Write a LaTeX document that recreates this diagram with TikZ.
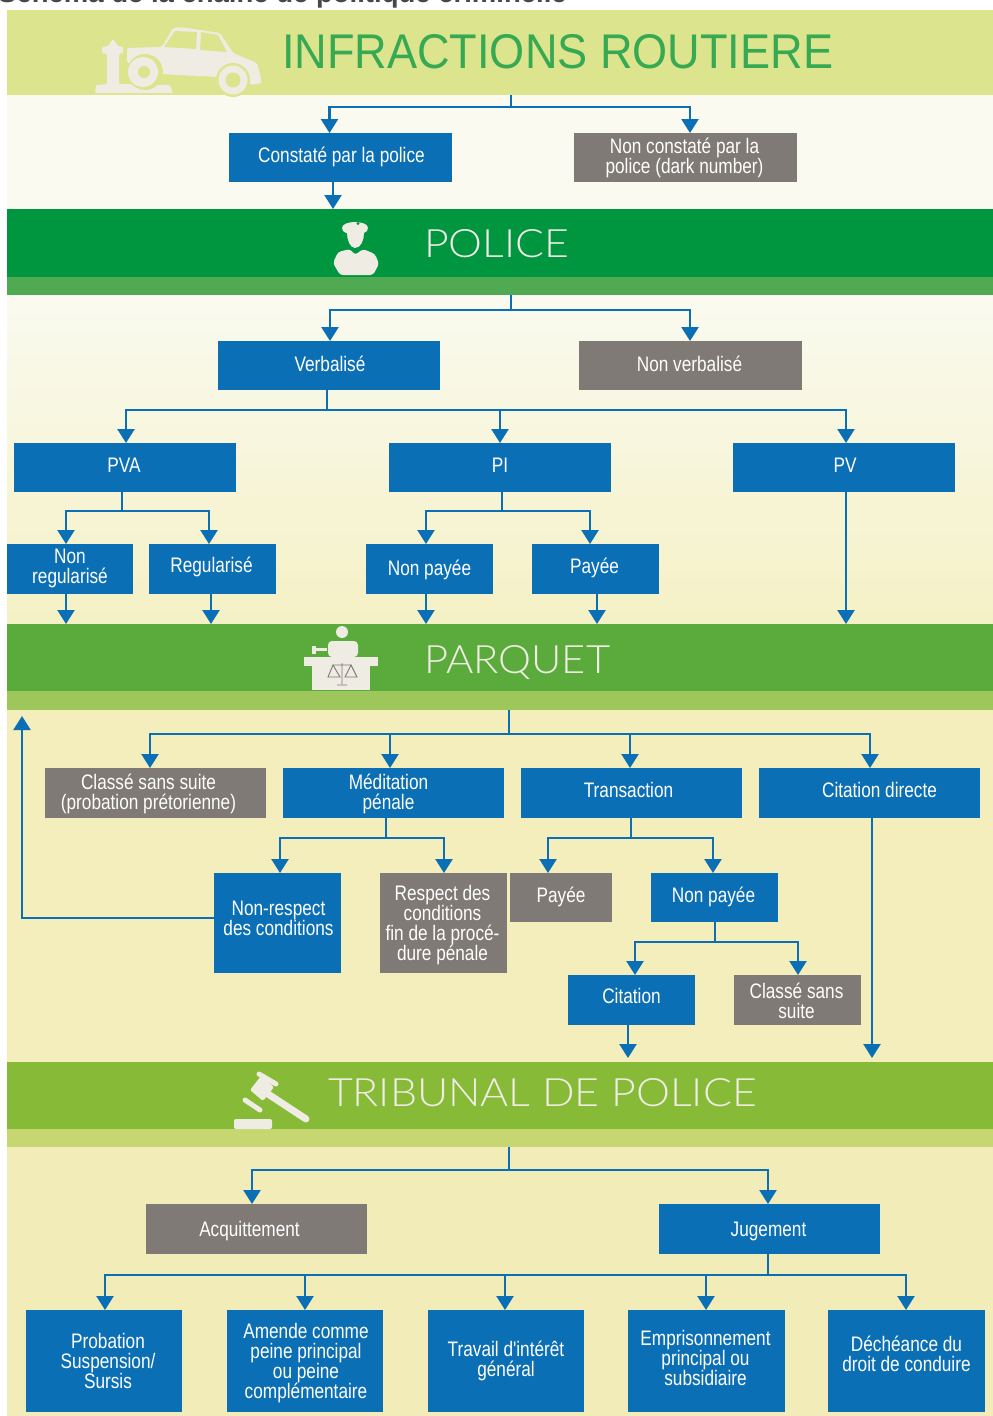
\documentclass[tikz,border=0pt]{standalone}
\usepackage{fontspec}
\setmainfont{Liberation Sans}
\newfontfamily\nar[FakeStretch=0.82]{Liberation Sans}
\newfontfamily\ttl[UprightFont={* Light}]{Lato}
\usetikzlibrary{arrows.meta,calc,positioning}
\definecolor{bl}{HTML}{0B6FB6}
\definecolor{gr}{HTML}{7F7A75}
\definecolor{icon}{HTML}{EFECE4}
\definecolor{bA}{HTML}{DCE58D}
\definecolor{sA}{HTML}{FAFAF0}
\definecolor{bB}{HTML}{00953F}
\definecolor{bBs}{HTML}{4FAA52}
\definecolor{bC}{HTML}{5BAB3C}
\definecolor{bCs}{HTML}{9DC65B}
\definecolor{sC}{HTML}{F3EEBC}
\definecolor{bD}{HTML}{87BA36}
\definecolor{bDs}{HTML}{C6D670}
\definecolor{sD}{HTML}{F1ECB8}
\definecolor{sB}{HTML}{F9F8DC}
\tikzset{
 x=1pt,y=-1pt,
 box/.style={anchor=north west,inner sep=0pt,outer sep=0pt},
 bluebox/.style={box,fill=bl},
 greybox/.style={box,fill=gr},
 lab/.style={inner sep=0pt,outer sep=0pt,align=center,text=white,font=\nar\fontsize{21}{20}\selectfont},
 band/.style={anchor=north west,inner sep=0pt,outer sep=0pt,minimum width=986pt},
 wire/.style={draw=bl,line width=2.4pt},
 arr/.style={wire,-{Triangle[width=17pt,length=14pt]}},
 heading/.style={inner sep=0pt,outer sep=0pt,anchor=west},
}
% name, style, x, y, w, h, text offset, text
\newcommand{\bx}[8]{\node[#2,minimum width=#5pt,minimum height=#6pt] (#1) at (#3,#4) {};
 \node[lab] (#1-t) at ([shift={(#7)}]#1.center) {#8};}
\begin{document}
\begin{tikzpicture}
\useasboundingbox (0,0) rectangle (993,1416);
% bands
\node[band,fill=bA,minimum height=85pt] (bandA) at (7,10) {};
\node[band,fill=sA,minimum height=114pt] (secA) at (7,95) {};
\node[band,fill=bB,minimum height=68pt] (bandB) at (7,209) {};
\node[band,fill=bBs,minimum height=18pt] (subB) at (7,277) {};
\node[band,top color=sA,bottom color=sC!70!sB,minimum height=329pt] (secB) at (7,295) {};
\node[band,fill=bC,minimum height=67pt] (bandC) at (7,624) {};
\node[band,fill=bCs,minimum height=19pt] (subC) at (7,691) {};
\node[band,fill=sC,minimum height=352pt] (secC) at (7,710) {};
\node[band,fill=bD,minimum height=67pt] (bandD) at (7,1062) {};
\node[band,fill=bDs,minimum height=18pt] (subD) at (7,1129) {};
\node[band,fill=sD,minimum height=269pt] (secD) at (7,1147) {};
% top caption, cut by the page edge as in the reference
\node[anchor=base west,inner sep=0pt,text=black!72,font=\bfseries\fontsize{27.5}{28}\selectfont] (cap) at (-2,2.5) {Schéma de la chaîne de politique criminelle};
% headings
\node[heading,text=bB!75!bA] (tA) at (282,52) {\resizebox{551pt}{34pt}{INFRACTIONS ROUTIERE}};
\node[heading,text=icon] (tB) at (424,243.5) {\resizebox{145pt}{28pt}{\ttl POLICE}};
\node[heading,text=icon] (tC) at (424,663) {\resizebox{186pt}{28pt}{\ttl PARQUET}};
\node[heading,text=icon] (tD) at (328,1092.5) {\resizebox{429pt}{28pt}{\ttl TRIBUNAL DE POLICE}};
% icons: hydrant and car
\fill[icon,rounded corners=1pt] (95,93) -- (96,85) -- (107,84) -- (107,54) -- (102,53) -- (102,47) -- (108,46) -- (113,39) -- (118,46) -- (123,47) -- (123,53) -- (119,54) -- (119,84) -- (170,85) -- (173,93) -- cycle;
\fill[icon,rounded corners=2pt] (127,63) -- (127,48) -- (162,47) -- (173,28) -- (180,27) -- (220,33) -- (233,53) -- (257,63) -- (262,83) -- (250,85) -- (246,75) -- (218,77) -- (160,74) -- (140,68) -- cycle;
\fill[bA] (164,47) -- (175,31) -- (197,32) -- (196,49) -- cycle;
\fill[bA] (201,32) -- (218,35) -- (227,52) -- (200,50) -- cycle;
\fill[bA] (145,72) circle (18);
\fill[icon] (143,72) circle (15);
\fill[bA] (144,72) circle (6);
\fill[bA] (233,80) circle (17);
\fill[icon] (233,80) circle (14.5);
\fill[bA] (233,80) circle (7.5);
% icon: officer
\fill[icon] (342,228) .. controls (342,220) and (368,220) .. (368,228) .. controls (368,233) and (362,234) .. (355,234) .. controls (348,234) and (342,233) .. (342,228) -- cycle;
\fill[bB] (358,223.5) circle (1.6);
\fill[icon] (347,233) -- (364,233) .. controls (364,240) and (361,248) .. (355,248) .. controls (350,248) and (347,240) .. (347,233) -- cycle;
\fill[icon,rounded corners=3pt] (333,263) -- (338,252) -- (350,249) -- (355,255) -- (363,249) -- (375,254) -- (379,264) -- (373,275) -- (340,275) -- cycle;
% icon: prosecutor's desk
\fill[icon] (342,632) circle (6);
\fill[icon,rounded corners=4pt] (328,657) -- (328,641) -- (358,641) -- (358,657) -- cycle;
\fill[icon] (312,648) rectangle (327,651);
\fill[icon] (312,646) rectangle (316,654);
\fill[icon] (304,657) rectangle (378,666);
\fill[icon] (312,666) rectangle (370,690);
\draw[gr,line width=0.9pt] (342,663) -- (342,684) (337,685) -- (347,685) (333,665) -- (351,665) (333,665) -- (328,677) -- (340,677) -- cycle (351,665) -- (345,677) -- (357,677) -- cycle;
% icon: gavel
\fill[icon,rounded corners=2pt] (250,1090) -- (261,1076) -- (274,1087) -- (263,1101) -- cycle;
\draw[icon,line width=5pt,line cap=round] (259,1074) -- (276,1084);
\draw[icon,line width=5pt,line cap=round] (245,1100) -- (260,1110);
\draw[icon,line width=7pt,line cap=round] (265,1092) -- (306,1119);
\fill[icon,rounded corners=2pt] (234,1129) -- (234,1119) -- (272,1119) -- (272,1129) -- cycle;
% boxes
\bx{con}{bluebox}{229}{133}{223}{49}{1,-0.5}{Constaté par la police}
\bx{ncon}{greybox}{574}{133}{223}{49}{-1,0.5}{Non constaté par la\\police (dark number)}
\bx{ver}{bluebox}{218}{341}{222}{49}{1,-2}{Verbalisé}
\bx{nver}{greybox}{579}{341}{223}{49}{-1,-2}{Non verbalisé}
\bx{pva}{bluebox}{14}{443}{222}{49}{-1,-2}{PVA}
\bx{pi}{bluebox}{389}{443}{222}{49}{0,-2}{PI}
\bx{pv}{bluebox}{733}{443}{222}{49}{1,-2}{PV}
\bx{nreg}{bluebox}{7}{544}{126}{50}{0,-1}{Non\\regularisé}
\bx{reg}{bluebox}{149}{544}{127}{50}{-1,-2}{Regularisé}
\bx{npa}{bluebox}{366}{544}{127}{50}{0,1}{Non payée}
\bx{pa}{bluebox}{532}{544}{127}{50}{-1,-1}{Payée}
\bx{cla}{greybox}{45}{768}{221}{50}{-7,1}{Classé sans suite\\(probation prétorienne)}
\bx{med}{bluebox}{283}{768}{221}{50}{-5,1}{Méditation\\pénale}
\bx{tra}{bluebox}{521}{768}{221}{50}{-3,-3}{Transaction}
\bx{cit}{bluebox}{759}{768}{221}{50}{10,-3}{Citation directe}
\bx{nres}{bluebox}{214}{873}{127}{100}{1,-5}{Non-respect\\des conditions}
\bx{res}{greybox}{380}{873}{127}{100}{-1,2}{Respect des\\conditions\\fin de la procé-\\dure pénale}
\bx{pb}{greybox}{510}{873}{102}{49}{0,-1}{Payée}
\bx{npb}{bluebox}{651}{873}{127}{49}{-1,-1}{Non payée}
\bx{cib}{bluebox}{568}{975}{127}{50}{0,-4}{Citation}
\bx{csb}{greybox}{734}{975}{127}{50}{-1,1}{Classé sans\\suite}
\bx{acq}{greybox}{146}{1204}{221}{50}{-7,2}{Acquittement}
\bx{jug}{bluebox}{659}{1204}{221}{50}{-1,2}{Jugement}
\bx{pro}{bluebox}{26}{1310}{156}{102}{4,0}{Probation\\Suspension/\\Sursis}
\bx{ame}{bluebox}{227}{1310}{156}{102}{1,2}{Amende comme\\peine principal\\ou peine\\complémentaire}
\bx{trv}{bluebox}{428}{1310}{156}{102}{0,0}{Travail d'intérêt\\général}
\bx{emp}{bluebox}{628}{1310}{157}{102}{-1,-3}{Emprisonnement\\principal ou\\subsidiaire}
\bx{dec}{bluebox}{828}{1310}{157}{102}{0,-7}{Déchéance du\\droit de conduire}
% junctions
\coordinate (j1) at (511,107);
\coordinate (j2) at (511,310);
\coordinate (j3) at (327,410);
\coordinate (j4) at (122,511);
\coordinate (j5) at (502,511);
\coordinate (j6) at (509,734);
\coordinate (j7) at (386,838);
\coordinate (j8) at (631,838);
\coordinate (j9) at (715,942);
\coordinate (j10) at (509,1170);
\coordinate (j11) at (768,1275);
\coordinate (back) at (22,716);
% connectors
\draw[wire] (j1 |- bandA.south) -- (j1);
\draw[arr] (j1) -| ([xshift=-11pt]con.north);
\draw[arr] (j1) -| ([xshift=4.5pt]ncon.north);
\draw[arr] ([xshift=-7.5pt]con.south) -- ([xshift=-7.5pt]con.south |- bandB.north);
\draw[wire] (j2 |- subB.south) -- (j2);
\draw[arr] (j2) -| ([xshift=1pt]ver.north);
\draw[arr] (j2) -| ([xshift=-0.5pt]nver.north);
\draw[wire] (j3 |- ver.south) -- (j3);
\draw[arr] (j3) -| ([xshift=1pt]pva.north);
\draw[arr] (j3) -| ([xshift=0pt]pi.north);
\draw[arr] (j3) -| ([xshift=2pt]pv.north);
\draw[wire] (j4 |- pva.south) -- (j4);
\draw[arr] (j4) -| ([xshift=-4pt]nreg.north);
\draw[arr] (j4) -| ([xshift=-3.5pt]reg.north);
\draw[wire] (j5 |- pi.south) -- (j5);
\draw[arr] (j5) -| ([xshift=-3.5pt]npa.north);
\draw[arr] (j5) -| ([xshift=-5.5pt]pa.north);
\draw[arr] ([xshift=-4pt]nreg.south) -- ([xshift=-4pt]nreg.south |- bandC.north);
\draw[arr] ([xshift=-1.5pt]reg.south) -- ([xshift=-1.5pt]reg.south |- bandC.north);
\draw[arr] ([xshift=-3.5pt]npa.south) -- ([xshift=-3.5pt]npa.south |- bandC.north);
\draw[arr] ([xshift=1.5pt]pa.south) -- ([xshift=1.5pt]pa.south |- bandC.north);
\draw[arr] ([xshift=2pt]pv.south) -- ([xshift=2pt]pv.south |- bandC.north);
\draw[wire] (j6 |- subC.south) -- (j6);
\draw[arr] (j6) -| ([xshift=-5.5pt]cla.north);
\draw[arr] (j6) -| ([xshift=-3.5pt]med.north);
\draw[arr] (j6) -| ([xshift=-1.5pt]tra.north);
\draw[arr] (j6) -| ([xshift=0.5pt]cit.north);
\draw[wire] (j7 |- med.south) -- (j7);
\draw[arr] (j7) -| ([xshift=2.5pt]nres.north);
\draw[arr] (j7) -| ([xshift=0.5pt]res.north);
\draw[wire] (j8 |- tra.south) -- (j8);
\draw[arr] (j8) -| ([xshift=-13pt]pb.north);
\draw[arr] (j8) -| ([xshift=-1.5pt]npb.north);
\draw[wire] (j9 |- npb.south) -- (j9);
\draw[arr] (j9) -| ([xshift=3.5pt]cib.north);
\draw[arr] (j9) -| ([xshift=0.5pt]csb.north);
\draw[arr] ([xshift=-3.5pt]cib.south) -- ++(0,33);
\draw[arr] ([xshift=2.5pt]cit.south) -- ++(0,240);
\draw[arr] ([yshift=5pt]nres.west) -| (back);
\draw[wire] (j10 |- subD.south) -- (j10);
\draw[arr] (j10) -| ([xshift=-4.5pt]acq.north);
\draw[arr] (j10) -| ([xshift=-1.5pt]jug.north);
\draw[wire] (j11 |- jug.south) -- (j11);
\draw[arr] (j11) -| ([xshift=1pt]pro.north);
\draw[arr] (j11) -| ([xshift=0pt]ame.north);
\draw[arr] (j11) -| ([xshift=-1pt]trv.north);
\draw[arr] (j11) -| ([xshift=-0.5pt]emp.north);
\draw[arr] (j11) -| ([xshift=-0.5pt]dec.north);
\end{tikzpicture}
\end{document}
